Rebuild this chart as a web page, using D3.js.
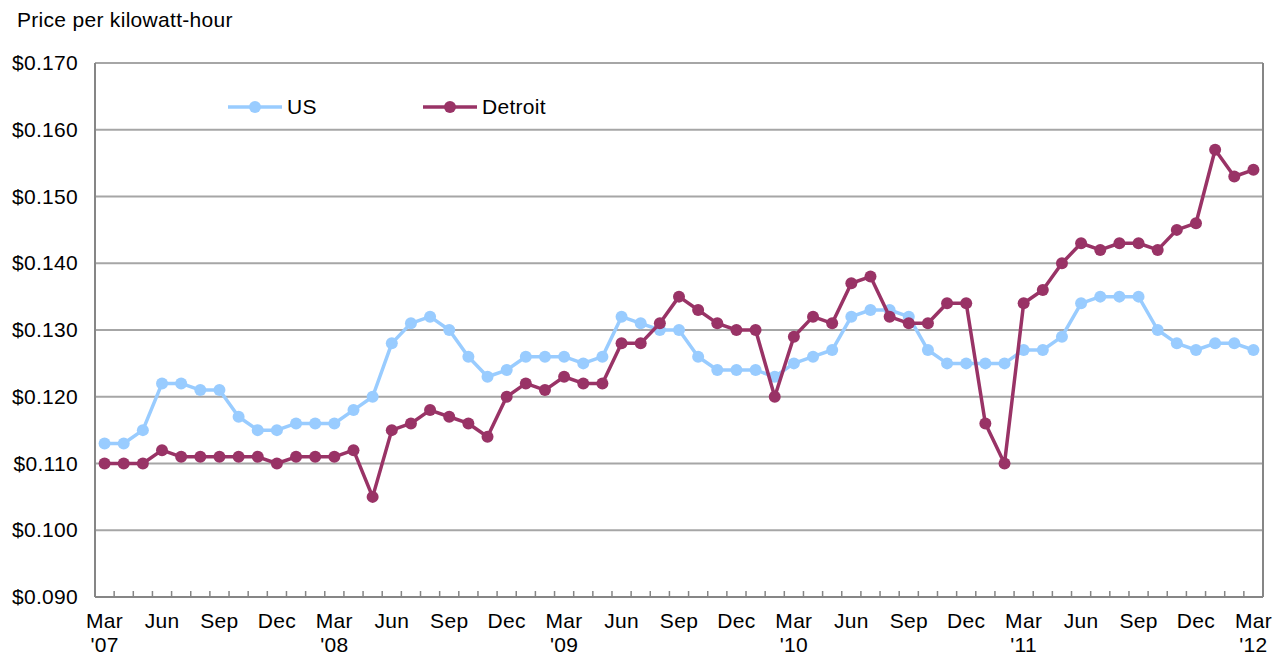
<!DOCTYPE html>
<html>
<head>
  <meta charset="utf-8">
  <script src="https://d3js.org/d3.v7.min.js"></script>
  <style>
    body { margin: 0; background: #fff; }
    svg text { font-family: "Liberation Sans", Arial, sans-serif; fill: #000; letter-spacing: 0.3px; }
  </style>
</head>
<body>
  <svg width="1274" height="655"></svg>

  <script>
    // Monthly data, Mar 2007 through Mar 2012
    var months = ["Mar", "Apr", "May", "Jun", "Jul", "Aug", "Sep", "Oct", "Nov", "Dec",
      "Jan", "Feb", "Mar", "Apr", "May", "Jun", "Jul", "Aug", "Sep", "Oct", "Nov", "Dec",
      "Jan", "Feb", "Mar", "Apr", "May", "Jun", "Jul", "Aug", "Sep", "Oct", "Nov", "Dec",
      "Jan", "Feb", "Mar", "Apr", "May", "Jun", "Jul", "Aug", "Sep", "Oct", "Nov", "Dec",
      "Jan", "Feb", "Mar", "Apr", "May", "Jun", "Jul", "Aug", "Sep", "Oct", "Nov", "Dec",
      "Jan", "Feb", "Mar"];
    var years = ["'07", "'08", "'09", "'10", "'11", "'12"];

    var usPrice = [0.113, 0.113, 0.115, 0.122, 0.122, 0.121, 0.121, 0.117, 0.115, 0.115,
      0.116, 0.116, 0.116, 0.118, 0.120, 0.128, 0.131, 0.132, 0.130, 0.126, 0.123, 0.124,
      0.126, 0.126, 0.126, 0.125, 0.126, 0.132, 0.131, 0.130, 0.130, 0.126, 0.124, 0.124,
      0.124, 0.123, 0.125, 0.126, 0.127, 0.132, 0.133, 0.133, 0.132, 0.127, 0.125, 0.125,
      0.125, 0.125, 0.127, 0.127, 0.129, 0.134, 0.135, 0.135, 0.135, 0.130, 0.128, 0.127,
      0.128, 0.128, 0.127];

    var detroitPrice = [0.110, 0.110, 0.110, 0.112, 0.111, 0.111, 0.111, 0.111, 0.111, 0.110,
      0.111, 0.111, 0.111, 0.112, 0.105, 0.115, 0.116, 0.118, 0.117, 0.116, 0.114, 0.120,
      0.122, 0.121, 0.123, 0.122, 0.122, 0.128, 0.128, 0.131, 0.135, 0.133, 0.131, 0.130,
      0.130, 0.120, 0.129, 0.132, 0.131, 0.137, 0.138, 0.132, 0.131, 0.131, 0.134, 0.134,
      0.116, 0.110, 0.134, 0.136, 0.140, 0.143, 0.142, 0.143, 0.143, 0.142, 0.145, 0.146,
      0.157, 0.153, 0.154];

    var yTicks = [0.09, 0.10, 0.11, 0.12, 0.13, 0.14, 0.15, 0.16, 0.17];

    var series = [
      { name: "US", values: usPrice, color: "#99ccff" },
      { name: "Detroit", values: detroitPrice, color: "#993366" }
    ];

    var svg = d3.select("svg");
    var plotLeft = 95, plotRight = 1263, plotTop = 63, plotBottom = 597;

    var x = d3.scaleBand()
      .domain(d3.range(months.length))
      .range([plotLeft, plotRight]);

    var y = d3.scaleLinear()
      .domain([0.09, 0.17])
      .range([plotBottom, plotTop]);

    var gridColor = "#a6a6a6";
    var axisColor = "#868686";
    var fontSize = "21px";

    // Horizontal gridlines
    svg.append("g")
      .selectAll("line")
      .data(yTicks.slice(1))
      .enter()
      .append("line")
      .attr("x1", plotLeft)
      .attr("x2", plotRight)
      .attr("y1", d => y(d))
      .attr("y2", d => y(d))
      .attr("stroke", gridColor)
      .attr("stroke-width", 2);

    // Right border
    svg.append("line")
      .attr("x1", plotRight).attr("x2", plotRight)
      .attr("y1", plotTop).attr("y2", plotBottom)
      .attr("stroke", axisColor)
      .attr("stroke-width", 2);

    // Left axis line
    svg.append("line")
      .attr("x1", plotLeft).attr("x2", plotLeft)
      .attr("y1", plotTop).attr("y2", plotBottom)
      .attr("stroke", axisColor)
      .attr("stroke-width", 2);

    // Bottom axis line
    svg.append("line")
      .attr("x1", plotLeft).attr("x2", plotRight)
      .attr("y1", plotBottom).attr("y2", plotBottom)
      .attr("stroke", axisColor)
      .attr("stroke-width", 2);

    // X ticks between categories
    svg.append("g")
      .selectAll("line")
      .data(d3.range(1, months.length))
      .enter()
      .append("line")
      .attr("x1", d => x(d))
      .attr("x2", d => x(d))
      .attr("y1", plotBottom - 6)
      .attr("y2", plotBottom)
      .attr("stroke", axisColor)
      .attr("stroke-width", 1.5);

    // Y labels
    svg.append("g")
      .selectAll("text")
      .data(yTicks)
      .enter()
      .append("text")
      .attr("x", 78)
      .attr("y", d => y(d) + 7)
      .attr("text-anchor", "end")
      .style("font-size", fontSize)
      .text(d => "$" + d3.format(".3f")(d));

    // X labels, every 3rd month
    svg.append("g")
      .selectAll("text")
      .data(d3.range(0, months.length, 3))
      .enter()
      .append("text")
      .attr("x", d => x(d) + x.bandwidth() / 2)
      .attr("y", 628)
      .attr("text-anchor", "middle")
      .style("font-size", fontSize)
      .text(d => months[d]);

    svg.append("g")
      .selectAll("text")
      .data(d3.range(0, months.length, 12))
      .enter()
      .append("text")
      .attr("x", d => x(d) + x.bandwidth() / 2)
      .attr("y", 652)
      .attr("text-anchor", "middle")
      .style("font-size", fontSize)
      .text((d, i) => years[i]);

    // Title
    svg.append("text")
      .attr("x", 17)
      .attr("y", 27)
      .style("font-size", fontSize)
      .text("Price per kilowatt-hour");

    // Lines and markers
    var line = d3.line()
      .x((d, i) => x(i) + x.bandwidth() / 2)
      .y(d => y(d));

    series.forEach(s => {
      svg.append("path")
        .datum(s.values)
        .attr("d", line)
        .attr("fill", "none")
        .attr("stroke", s.color)
        .attr("stroke-width", 3.5)
        .attr("stroke-linejoin", "round");

      svg.append("g")
        .selectAll("circle")
        .data(s.values)
        .enter()
        .append("circle")
        .attr("cx", (d, i) => x(i) + x.bandwidth() / 2)
        .attr("cy", d => y(d))
        .attr("r", 6)
        .attr("fill", s.color);
    });

    // Legend
    var legendX = [228, 423];
    series.forEach((s, i) => {
      var g = svg.append("g").attr("transform", "translate(" + legendX[i] + ",107)");
      g.append("line")
        .attr("x1", 0).attr("x2", 54)
        .attr("stroke", s.color)
        .attr("stroke-width", 3.5);
      g.append("circle")
        .attr("cx", 27)
        .attr("r", 6)
        .attr("fill", s.color);
      g.append("text")
        .attr("x", 59)
        .attr("y", 7)
        .style("font-size", fontSize)
        .text(s.name);
    });
  </script>
</body>
</html>
